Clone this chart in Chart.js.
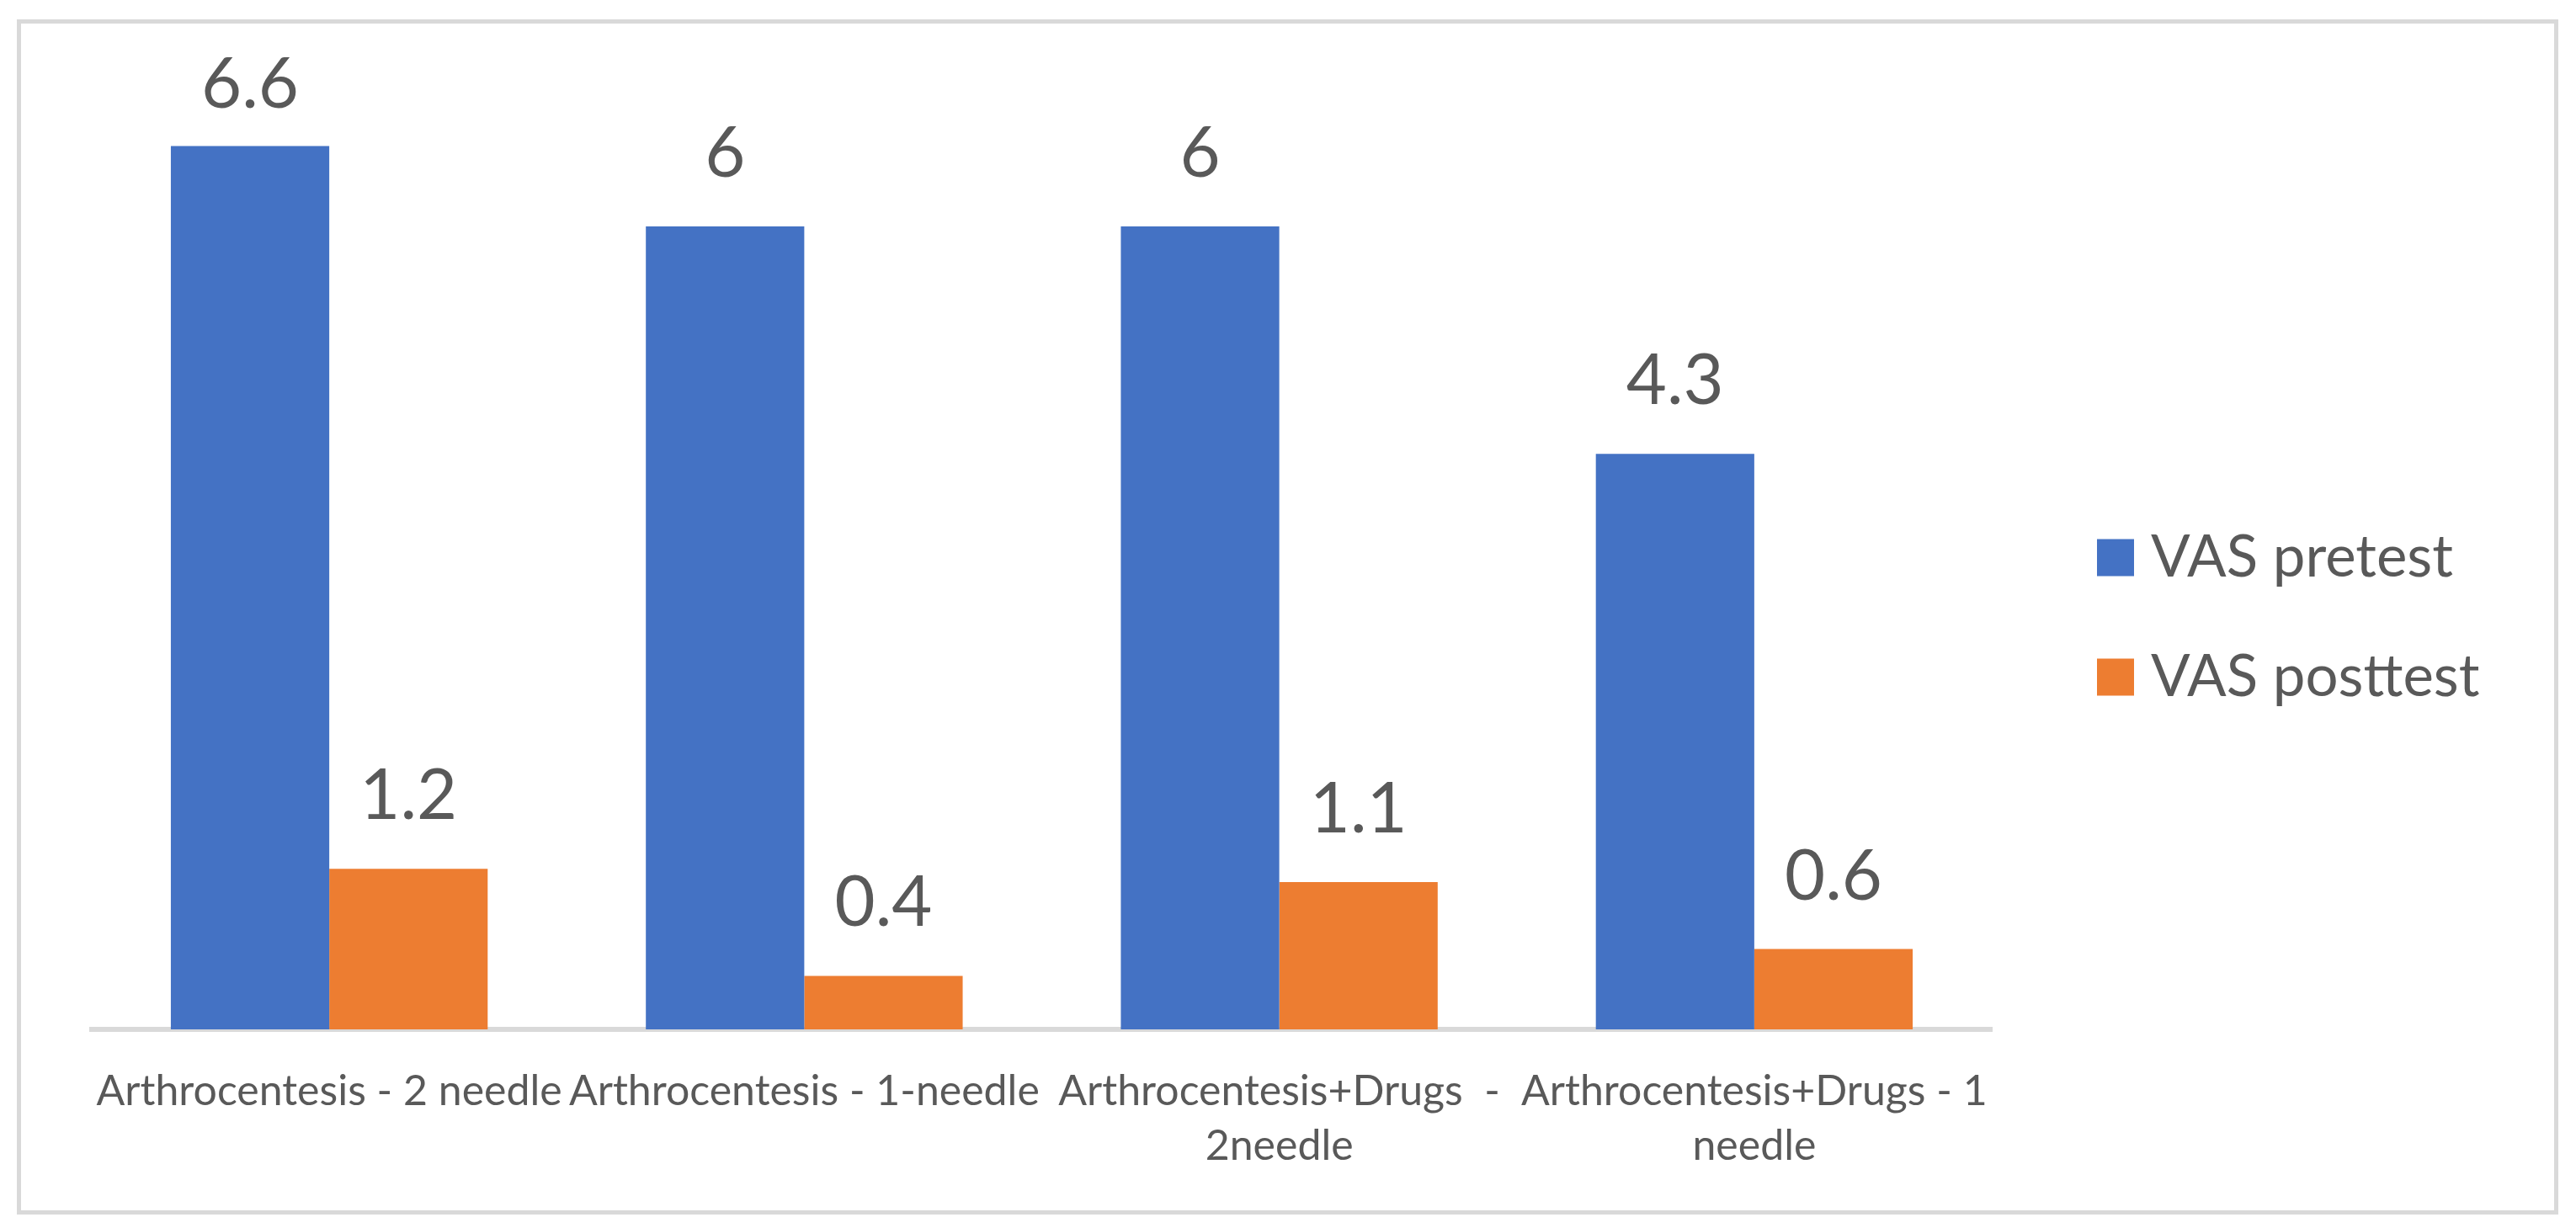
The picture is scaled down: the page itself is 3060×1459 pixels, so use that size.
<!DOCTYPE html>
<html>
<head>
<meta charset="utf-8">
<script src="https://cdn.jsdelivr.net/npm/chart.js@4.4.0/dist/chart.umd.min.js"></script>
<style>
  html, body { margin: 0; padding: 0; background: #fff; }
  #wrap { position: relative; width: 3060px; height: 1459px; }
  #frame { position: absolute; left: 20px; top: 23px; width: 3009px; height: 1410px; border: 5px solid #d9d9d9; }
  canvas { position: absolute; left: 0; top: 0; }
</style>
</head>
<body>
<div id="wrap">
  <div id="frame"></div>
  <canvas id="vas-chart" width="3060" height="1459"></canvas>
</div>
<script>
// values
const categories = [
  "Arthrocentesis - 2 needle",
  "Arthrocentesis - 1-needle",
  ["Arthrocentesis+Drugs  -", "2needle"],
  ["Arthrocentesis+Drugs - 1", "needle"]
];
const seriesNames = ["VAS pretest", "VAS posttest"];
const pretest = [6.6, 6, 6, 4.3];
const posttest = [1.2, 0.4, 1.1, 0.6];
const seriesColors = ["#4472C4", "#ED7D31"];
const yMax = 7;

const textColor = "#595959";

// numbers above each bar
const valueLabels = {
  id: "valueLabels",
  afterDatasetsDraw(chart) {
    const ctx = chart.ctx;
    ctx.save();
    ctx.font = "83px Lato";
    ctx.fillStyle = textColor;
    ctx.textAlign = "center";
    ctx.textBaseline = "alphabetic";
    chart.data.datasets.forEach((ds, i) => {
      chart.getDatasetMeta(i).data.forEach((bar, j) => {
        const y = Math.max(bar.y - 59, chart.chartArea.top + 18);
        ctx.fillText(String(ds.data[j]), bar.x, y);
      });
    });
    ctx.restore();
  }
};

// legend on the right, square swatches
const sideLegend = {
  id: "sideLegend",
  afterDraw(chart) {
    const ctx = chart.ctx;
    const x = chart.chartArea.right + 125;
    const mid = chart.height / 2 + 4;
    const step = 142;
    const box = 44;
    ctx.save();
    ctx.font = "69px Lato";
    ctx.textAlign = "left";
    ctx.textBaseline = "alphabetic";
    chart.data.datasets.forEach((ds, i) => {
      const cy = mid + (i - (chart.data.datasets.length - 1) / 2) * step;
      ctx.fillStyle = ds.backgroundColor;
      ctx.fillRect(x, cy - box / 2, box, box);
      ctx.fillStyle = textColor;
      ctx.fillText(ds.label, x + 64, cy + box / 2);
    });
    ctx.restore();
  }
};

function drawChart() {
  const ctx = document.getElementById("vas-chart").getContext("2d");
  new Chart(ctx, {
    type: "bar",
    data: {
      labels: categories,
      datasets: [pretest, posttest].map((values, i) => ({
        label: seriesNames[i],
        data: values,
        backgroundColor: seriesColors[i],
        borderWidth: 0,
        categoryPercentage: 0.667,
        barPercentage: 1.0
      }))
    },
    options: {
      responsive: false,
      devicePixelRatio: 1,
      animation: false,
      layout: {
        padding: { left: 109, right: 694, top: 110, bottom: 32 }
      },
      plugins: {
        legend: { display: false },
        tooltip: { enabled: false }
      },
      scales: {
        x: {
          grid: { display: false },
          border: { display: true, color: "#d9d9d9", width: 6 },
          ticks: {
            color: textColor,
            font: { family: "Lato", size: 50, lineHeight: 1.3 },
            padding: 33,
            maxRotation: 0,
            minRotation: 0,
            autoSkip: false
          }
        },
        y: {
          display: false,
          min: 0,
          max: yMax
        }
      }
    },
    plugins: [valueLabels, sideLegend]
  });
}

document.fonts.load("50px Lato").then(drawChart, drawChart);
</script>
</body>
</html>
